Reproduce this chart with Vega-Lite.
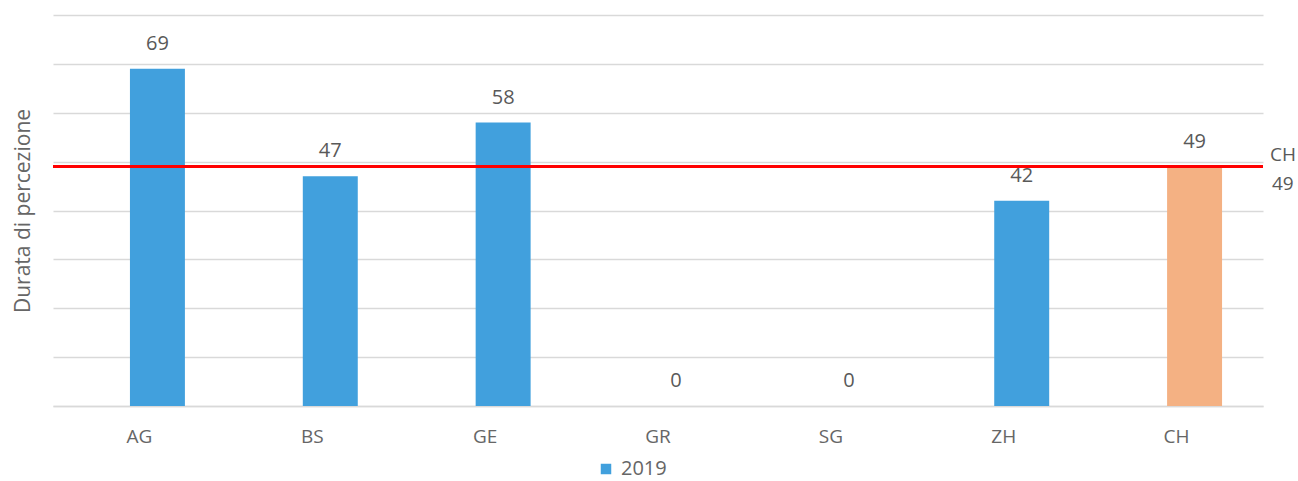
{
  "$schema": "https://vega.github.io/schema/vega-lite/v6.json",
  "autosize": "none",
  "width": 1210,
  "height": 391,
  "padding": {"left": 53, "top": 15, "right": 35, "bottom": 75},
  "background": "white",
  "config": {"view": {"stroke": null}, "font": "Open Sans"},
  "data": {"values": [
    {"cat": "AG", "value": 69, "series": "2019"},
    {"cat": "BS", "value": 47, "series": "2019"},
    {"cat": "GE", "value": 58, "series": "2019"},
    {"cat": "GR", "value": 0, "series": "2019"},
    {"cat": "SG", "value": 0, "series": "2019"},
    {"cat": "ZH", "value": 42, "series": "2019"},
    {"cat": "CH", "value": 49, "series": "CH"}
  ]},
  "encoding": {
    "x": {"field": "cat", "type": "nominal", "sort": null,
      "scale": {"paddingInner": 0, "paddingOuter": 0},
      "axis": {"title": null, "labelAngle": 0, "ticks": false, "domain": true, "domainColor": "#d9d9d9", "domainWidth": 1.5,
        "labelColor": "#666666", "labelFontSize": 19, "labelPadding": 21, "labelFont": "Open Sans"}}
  },
  "layer": [
    {
      "mark": {"type": "bar", "width": {"band": 0.318}, "xOffset": 18},
      "encoding": {
        "y": {"field": "value", "type": "quantitative",
          "scale": {"domain": [0, 80], "nice": false},
          "axis": {"title": "Durata di percezione", "titleFontSize": 21, "titleColor": "#666666", "titleFontWeight": "normal", "titleFont": "Open Sans",
            "labels": false, "ticks": false, "domain": false, "grid": true, "gridColor": "#d9d9d9", "gridWidth": 1.5,
            "values": [0, 10, 20, 30, 40, 50, 60, 70, 80], "titlePadding": 20}},
        "color": {"field": "series", "type": "nominal",
          "scale": {"domain": ["2019", "CH"], "range": ["#41a0dd", "#f4b183"]},
          "legend": {"title": null, "values": ["2019"], "orient": "none", "legendX": 543, "legendY": 444,
            "symbolType": "square", "symbolSize": 110, "symbolStrokeWidth": 0, "labelFontSize": 20, "labelColor": "#666666", "labelFont": "Open Sans", "labelOffset": 5}}
      }
    },
    {
      "mark": {"type": "text", "xOffset": 18, "dy": -25, "fontSize": 20, "color": "#595959", "font": "Open Sans"},
      "encoding": {
        "y": {"field": "value", "type": "quantitative"},
        "text": {"field": "value", "type": "quantitative"}
      }
    },
    {
      "mark": {"type": "rule", "color": "#ff0000", "strokeWidth": 3},
      "encoding": {"y": {"datum": 49}, "x": null}
    },
    {
      "data": {"values": [{"lab": "CH", "v": 49}]},
      "mark": {"type": "text", "align": "left", "dx": 7, "dy": -12, "fontSize": 19, "color": "#595959", "font": "Open Sans"},
      "encoding": {"x": {"value": "width"}, "y": {"field": "v", "type": "quantitative"}, "text": {"field": "lab"}}
    },
    {
      "data": {"values": [{"lab": "49", "v": 49}]},
      "mark": {"type": "text", "align": "left", "dx": 9, "dy": 17, "fontSize": 19, "color": "#595959", "font": "Open Sans"},
      "encoding": {"x": {"value": "width"}, "y": {"field": "v", "type": "quantitative"}, "text": {"field": "lab"}}
    }
  ]
}
